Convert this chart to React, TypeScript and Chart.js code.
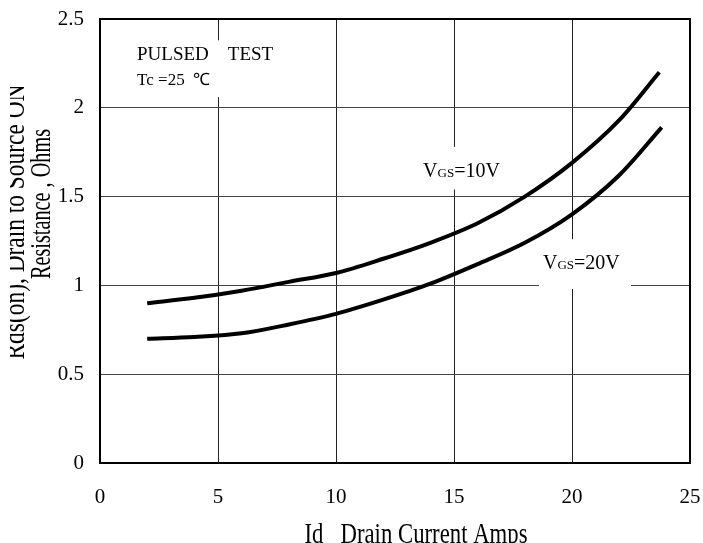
import React, { useEffect, useRef } from "react";
import { Chart, registerables } from "chart.js";

Chart.register(...registerables);

// ---- data ----
const currentVgs10 = [2, 4, 6, 8, 10, 12, 14, 16, 18, 20, 22, 23.7];
const resistanceVgs10 = [0.9, 0.93, 0.97, 1.02, 1.07, 1.15, 1.24, 1.35, 1.5, 1.69, 1.93, 2.2];
const currentVgs20 = [2, 4, 6, 8, 10, 12, 14, 16, 18, 20, 22, 23.8];
const resistanceVgs20 = [0.7, 0.71, 0.73, 0.78, 0.84, 0.92, 1.01, 1.12, 1.24, 1.4, 1.62, 1.89];
const xTicks = [0, 5, 10, 15, 20, 25];
const yTicks = [0, 0.5, 1, 1.5, 2, 2.5];

const xTitle = "Id   Drain Current Amps";
const yTitleLine1 = "Rds(on), Drain to Source ON";
const yTitleLine2 = "Resistance , Ohms";
const noteLine1 = "PULSED    TEST";
const noteLine2 = "Tc =25  \u2103";

const FONT = '"Liberation Serif", "Times New Roman", serif';

// white label boxes (data coordinates)
const boxes = [
  { x0: 1.2, x1: 5.5, y0: 2.06, y1: 2.38 },
  { x0: 13.5, x1: 17.4, y0: 1.54, y1: 1.78 },
  { x0: 18.6, x1: 22.5, y0: 0.98, y1: 1.26 },
];

// draw condensed text fitted to a given width, centred at (cx, baseline)
function condensedText(ctx: CanvasRenderingContext2D, text: string, cx: number, by: number, width: number) {
  const w = ctx.measureText(text).width;
  const s = width / w;
  ctx.save();
  ctx.translate(cx, by);
  ctx.scale(s, 1);
  ctx.textAlign = "center";
  ctx.fillText(text, 0, 0);
  ctx.restore();
}

const overlayPlugin = {
  id: "overlay",
  beforeDatasetsDraw(chart: any) {
    const { ctx, scales } = chart;
    const x = scales.x;
    const y = scales.y;
    ctx.save();
    ctx.fillStyle = "#ffffff";
    for (const b of boxes) {
      const px0 = x.getPixelForValue(b.x0);
      const px1 = x.getPixelForValue(b.x1);
      const py0 = y.getPixelForValue(b.y1);
      const py1 = y.getPixelForValue(b.y0);
      ctx.fillRect(px0, py0, px1 - px0, py1 - py0);
    }
    ctx.restore();
  },
  afterDatasetsDraw(chart: any) {
    const { ctx, scales, chartArea } = chart;
    const x = scales.x;
    const y = scales.y;
    ctx.save();
    // plot frame
    ctx.strokeStyle = "#000";
    ctx.lineWidth = 2;
    ctx.strokeRect(chartArea.left, chartArea.top, chartArea.right - chartArea.left, chartArea.bottom - chartArea.top);

    ctx.fillStyle = "#000";
    ctx.textBaseline = "alphabetic";
    ctx.textAlign = "left";

    // note text
    ctx.font = `19px ${FONT}`;
    ctx.fillText(noteLine1, x.getPixelForValue(1.57), y.getPixelForValue(2.27));
    ctx.font = `17px ${FONT}`;
    ctx.fillText(noteLine2, x.getPixelForValue(1.57), y.getPixelForValue(2.128));

    // VGS labels with subscript
    const drawVgs = (tail: string, vx: number, vy: number) => {
      let px = x.getPixelForValue(vx);
      const py = y.getPixelForValue(vy);
      ctx.font = `20px ${FONT}`;
      ctx.fillText("V", px, py);
      px += ctx.measureText("V").width;
      ctx.font = `13px ${FONT}`;
      ctx.fillText("GS", px, py);
      px += ctx.measureText("GS").width;
      ctx.font = `20px ${FONT}`;
      ctx.fillText(tail, px, py);
    };
    drawVgs("=10V", 13.69, 1.61);
    drawVgs("=20V", 18.77, 1.092);

    // x title (condensed, cut by the bottom edge)
    ctx.font = `30px ${FONT}`;
    condensedText(ctx, xTitle, 416, 543, 223);

    // y title, two rotated lines (first clipped at left)
    ctx.save();
    ctx.beginPath();
    ctx.rect(10, 0, chart.width, chart.height);
    ctx.clip();
    ctx.font = `30px ${FONT}`;
    ctx.save();
    ctx.translate(24, 222);
    ctx.rotate(-Math.PI / 2);
    condensedText(ctx, yTitleLine1, 0, 0, 275);
    ctx.restore();
    ctx.save();
    ctx.translate(50, 204);
    ctx.rotate(-Math.PI / 2);
    condensedText(ctx, yTitleLine2, 0, 0, 150);
    ctx.restore();
    ctx.restore();

    ctx.restore();
  },
};

const zeroPadding = (s: any) => {
  s.paddingTop = 0;
  s.paddingBottom = 0;
  s.paddingLeft = 0;
  s.paddingRight = 0;
};

export default function App() {
  const canvasRef = useRef<HTMLCanvasElement | null>(null);

  useEffect(() => {
    if (!canvasRef.current) return;
    const chart = new Chart(canvasRef.current, {
      type: "line",
      data: {
        datasets: [
          {
            label: "VGS=10V",
            data: currentVgs10.map((v, i) => ({ x: v, y: resistanceVgs10[i] })),
            borderColor: "#000",
            borderWidth: 4,
            pointRadius: 0,
            fill: false,
            cubicInterpolationMode: "monotone",
          },
          {
            label: "VGS=20V",
            data: currentVgs20.map((v, i) => ({ x: v, y: resistanceVgs20[i] })),
            borderColor: "#000",
            borderWidth: 4,
            pointRadius: 0,
            fill: false,
            cubicInterpolationMode: "monotone",
          },
        ],
      },
      options: {
        responsive: false,
        animation: false,
        layout: { padding: { top: 19, right: 13, left: 0, bottom: 0 } },
        plugins: {
          legend: { display: false },
          tooltip: { enabled: false },
        },
        scales: {
          x: {
            type: "linear",
            min: 0,
            max: 25,
            afterBuildTicks: (s: any) => {
              s.ticks = xTicks.map((v) => ({ value: v }));
            },
            afterFit: (s: any) => {
              s.height = 80;
              zeroPadding(s);
            },
            grid: { color: "#222", lineWidth: 1, drawTicks: false },
            border: { display: false },
            ticks: {
              padding: 22,
              color: "#000",
              maxRotation: 0,
              font: { family: FONT, size: 21 },
              callback: (v: any) => String(v),
            },
          },
          y: {
            type: "linear",
            min: 0,
            max: 2.5,
            afterBuildTicks: (s: any) => {
              s.ticks = yTicks.map((v) => ({ value: v }));
            },
            afterFit: (s: any) => {
              s.width = 100;
              zeroPadding(s);
            },
            grid: { color: "#444", lineWidth: 1, drawTicks: false },
            border: { display: false },
            ticks: {
              padding: 16,
              color: "#000",
              font: { family: FONT, size: 21 },
              callback: (v: any) => String(v),
            },
          },
        },
      },
      plugins: [overlayPlugin],
    } as any);
    return () => chart.destroy();
  }, []);

  return (
    <div style={{ position: "fixed", left: 0, top: 0, width: 703, height: 543, background: "#fff" }}>
      <canvas ref={canvasRef} width={703} height={543} />
    </div>
  );
}
